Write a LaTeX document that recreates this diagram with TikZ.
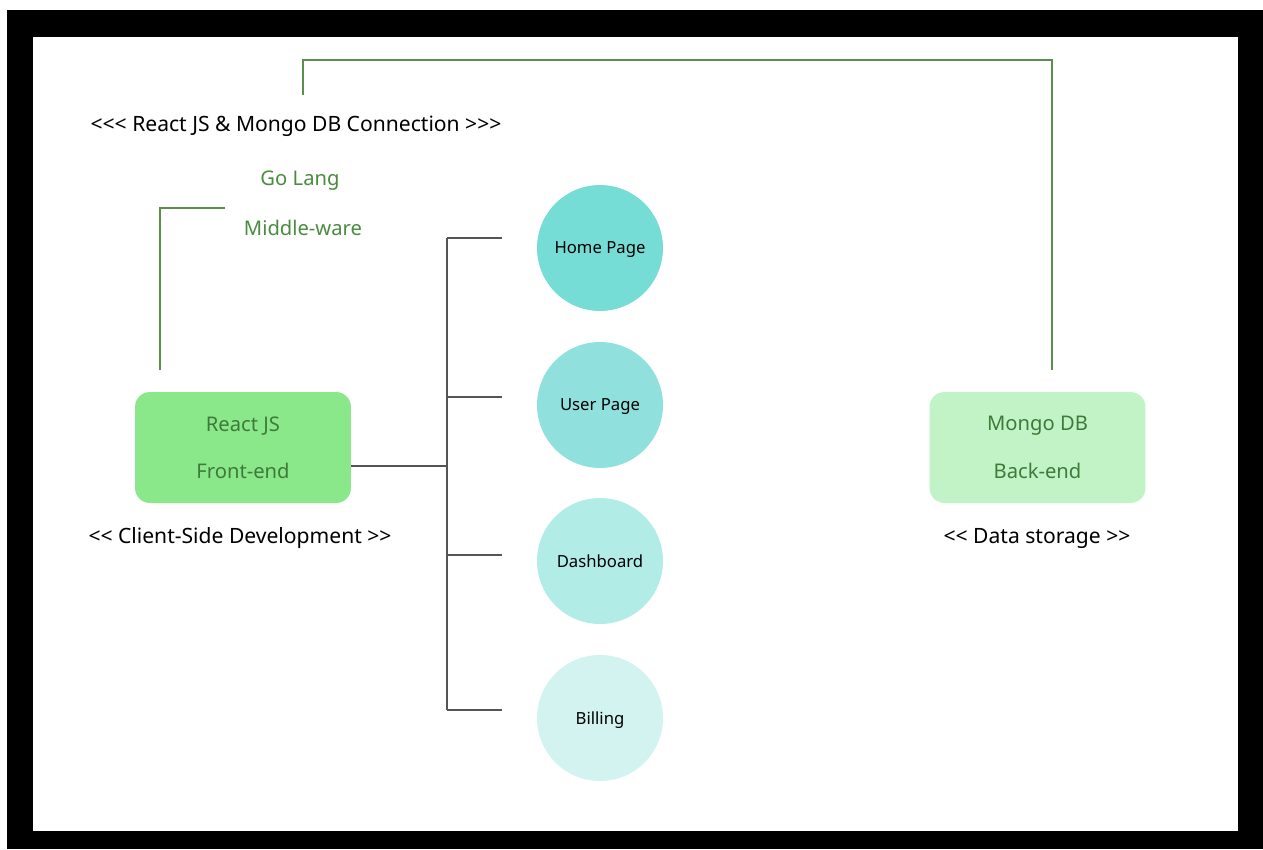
\documentclass[tikz,border=0pt]{standalone}
\usepackage{fontspec}
\newfontfamily\uifont{Noto Sans}
\definecolor{reactgreen}{HTML}{8AE78A}
\definecolor{mongogreen}{HTML}{C2F3C6}
\definecolor{boxtext}{HTML}{3F7A3A}
\definecolor{labelgreen}{HTML}{4A8C3F}
\definecolor{linkgreen}{HTML}{5A8F50}
\definecolor{treegray}{HTML}{555555}
\definecolor{pageA}{HTML}{76DDD6}
\definecolor{pageB}{HTML}{90E1DE}
\definecolor{pageC}{HTML}{B2ECE7}
\definecolor{pageD}{HTML}{D3F3F0}
\begin{document}
\begin{tikzpicture}[x=0.02cm,y=-0.02cm,
  caption/.style={text=black, font=\uifont\fontsize{12}{14}\selectfont},
  greentext/.style={text=labelgreen, font=\uifont\fontsize{11.5}{13}\selectfont},
  block/.style={rounded corners=0.3cm, minimum width=4.32cm, minimum height=2.22cm,
    align=center, text=boxtext, font=\uifont\fontsize{11.5}{27}\selectfont},
  page/.style={circle, minimum size=2.52cm, inner sep=0pt, text=black, text depth=0pt,
    font=\uifont\fontsize{9.5}{11}\selectfont},
  link/.style={draw=linkgreen, line width=1.1pt},
  branch/.style={draw=treegray, line width=0.8pt}]
\useasboundingbox (0,0) rectangle (1263,849);
\fill[black] (7,10) rectangle (1263,849);
\fill[white] (33,37) rectangle (1238,831);

\node[caption] (conn) at (296,126) {<<< React JS \& Mongo DB Connection >>>};
\node[greentext] (golang) at (300,180.5) {Go Lang};
\node[greentext] (middle) at (303,228) {Middle-ware};

\node[block, fill=reactgreen] (react) at (243,447.5) {React JS\\Front-end};
\node[block, fill=mongogreen] (mongo) at (1037.5,447.5) {Mongo DB\\Back-end};
\node[caption] (client) at (240,538.5) {<< Client-Side Development >>};
\node[caption] (storage) at (1037,538.5) {<< Data storage >>};

% pages
\foreach \name/\txt/\y/\col/\by in {home/Home Page/248/pageA/238, user/User Page/405/pageB/397,
    dash/Dashboard/561/pageC/555, bill/Billing/718/pageD/710} {
  \node[page, fill=\col] (\name) at (600,\y) {\txt};
  \coordinate (\name-end) at (502,\by);
  \draw[branch] (\name-end) -- ++(-55,0);
}
\coordinate (spine-top) at (447,238);
\coordinate (spine-mid) at (447,466);
\coordinate (spine-bot) at (447,710);
\draw[branch] (spine-top) -- (spine-bot);
\draw[branch] (react.east |- spine-mid) -- (spine-mid);

% green links
\coordinate (link-a) at (303,95);
\coordinate (link-b) at (1052,370);
\draw[link] (link-a) -- ++(0,-35) -| (link-b);
\coordinate (mw-a) at (225,208);
\coordinate (mw-b) at (160,370);
\draw[link] (mw-a) -| (mw-b);
\end{tikzpicture}
\end{document}
